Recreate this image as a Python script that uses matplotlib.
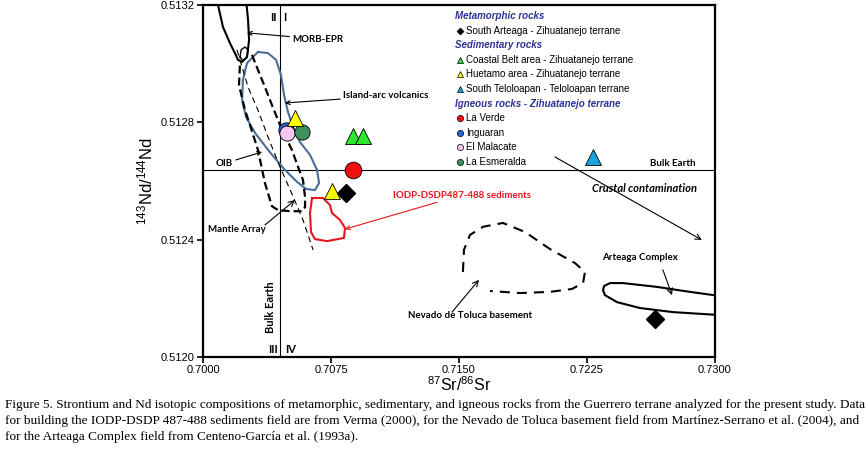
import numpy as np
import matplotlib
matplotlib.use("Agg")
import matplotlib.pyplot as plt

plt.rcParams['font.family'] = ['Liberation Sans', 'DejaVu Sans']
plt.rcParams['mathtext.fontset'] = 'custom'
plt.rcParams['mathtext.rm'] = 'Liberation Sans'
plt.rcParams['mathtext.it'] = 'Liberation Sans:italic'

# ---- samples (87Sr/86Sr, 143Nd/144Nd) ----
arteaga_sr = [0.70838, 0.72648]
arteaga_nd = [0.512560, 0.512130]
coastal_sr = [0.70879, 0.70937]
coastal_nd = [0.512752, 0.512752]
huetamo_sr = [0.70539, 0.70756]
huetamo_nd = [0.512815, 0.512565]
teloloapan_sr = [0.72285]
teloloapan_nd = [0.512682]
laverde_sr = [0.70879]
laverde_nd = [0.512637]
inguaran_sr = [0.70486]
inguaran_nd = [0.512774]
malacate_sr = [0.70492]
malacate_nd = [0.512762]
esmeralda_sr = [0.70580]
esmeralda_nd = [0.512767]

# ---- reference fields (outlines) ----
morb_sr = [0.70076, 0.70088, 0.70117, 0.70158, 0.70187, 0.70205, 0.70229, 0.70258, 0.70270, 0.70264, 0.70252]
morb_nd = [0.51322, 0.51320, 0.513125, 0.51307, 0.513036, 0.513013, 0.513006, 0.513023, 0.513081, 0.513149, 0.51322]

morb_knot_sr = [0.70217, 0.70223, 0.70246, 0.70264, 0.70258, 0.70234, 0.70217]
morb_knot_nd = [0.513023, 0.513047, 0.513057, 0.513047, 0.513023, 0.513010, 0.513023]

arc_sr = [0.70322, 0.70381, 0.70428, 0.70457, 0.70475, 0.70498, 0.70527, 0.70568, 0.70627, 0.70668, 0.70680,
          0.70656, 0.70604, 0.70551, 0.70475, 0.70381, 0.70305, 0.70252, 0.70229, 0.70234, 0.70258, 0.70322]
arc_nd = [0.513040, 0.513036, 0.513013, 0.512961, 0.512893, 0.512835, 0.512784, 0.512733, 0.512689, 0.512638, 0.512593,
          0.512569, 0.512573, 0.512597, 0.512641, 0.512706, 0.512764, 0.512818, 0.512876, 0.512944, 0.513002, 0.513040]

mantle_sr = [0.70287, 0.70322, 0.70363, 0.70404, 0.70463, 0.70521, 0.70557, 0.70586, 0.70598, 0.70598, 0.70580,
             0.70510, 0.70439, 0.70404, 0.70363, 0.70322, 0.70275, 0.70246, 0.70211, 0.70217]
mantle_nd = [0.513030, 0.512979, 0.512920, 0.512859, 0.512774, 0.512706, 0.512648, 0.512603, 0.512545, 0.512511, 0.512497,
             0.512497, 0.512501, 0.512514, 0.512593, 0.512706, 0.512791, 0.512842, 0.512927, 0.513002]

thin_sr = [0.70199, 0.70264, 0.70322, 0.70381, 0.70451, 0.70521, 0.70586, 0.70645]
thin_nd = [0.513047, 0.512920, 0.512842, 0.512750, 0.512648, 0.512556, 0.512467, 0.512365]

iodp_sr = [0.70639, 0.70703, 0.70744, 0.70756, 0.70803, 0.70832, 0.70826, 0.70727, 0.70656, 0.70633, 0.70627, 0.70639]
iodp_nd = [0.512542, 0.512542, 0.512518, 0.512491, 0.512467, 0.512440, 0.512406, 0.512395, 0.512402, 0.512426, 0.512491, 0.512542]

toluca_sr = [0.71523, 0.71529, 0.71564, 0.71641, 0.71758, 0.71887, 0.72033, 0.72180, 0.72238, 0.72227, 0.72162,
             0.72033, 0.71857, 0.71682]
toluca_nd = [0.512290, 0.512365, 0.512416, 0.512444, 0.512457, 0.512426, 0.512368, 0.512320, 0.512290, 0.512252, 0.512232,
             0.512222, 0.512218, 0.512225]

complex_sr = [0.73029, 0.72853, 0.72660, 0.72461, 0.72385, 0.72350, 0.72344, 0.72355, 0.72426, 0.72560, 0.72754, 0.73029]
complex_nd = [0.512208, 0.512222, 0.512239, 0.512252, 0.512252, 0.512242, 0.512228, 0.512211, 0.512187, 0.512167, 0.512153, 0.512143]

bulk_sr = 0.7045
bulk_nd = 0.512638

x_ticks = [0.7000, 0.7075, 0.7150, 0.7225, 0.7300]
y_ticks = [0.5120, 0.5124, 0.5128, 0.5132]

caption = [
    "Figure 5. Strontium and Nd isotopic compositions of metamorphic, sedimentary, and igneous rocks from the Guerrero terrane analyzed for the present study. Data",
    "for building the IODP-DSDP 487-488 sediments field are from Verma (2000), for the Nevado de Toluca basement field from Martínez-Serrano et al. (2004), and",
    "for the Arteaga Complex field from Centeno-García et al. (1993a).",
]

fig = plt.figure(figsize=(8.68, 4.62), dpi=100)
ax = fig.add_axes([203 / 868, 1 - 357 / 462, 512 / 868, 352 / 462])
ax.set_xlim(0.7000, 0.7300)
ax.set_ylim(0.5120, 0.5132)

# bulk earth lines
ax.axvline(bulk_sr, color='black', lw=0.8, zorder=1)
ax.axhline(bulk_nd, color='black', lw=0.8, zorder=1)

# fields
ax.plot(morb_sr, morb_nd, color='black', lw=1.5, solid_joinstyle='round')
ax.plot(morb_knot_sr, morb_knot_nd, color='black', lw=1.0, solid_joinstyle='round')
ax.plot(arc_sr, arc_nd, color='#4a6d96', lw=1.5, solid_joinstyle='round')
ax.plot(mantle_sr, mantle_nd, color='black', lw=1.6, linestyle=(0, (3.6, 1.8)))
ax.plot(thin_sr, thin_nd, color='black', lw=0.8, linestyle=(0, (5.4, 3.6)))
ax.plot(iodp_sr, iodp_nd, color='#e8141b', lw=1.5, solid_joinstyle='round')
ax.plot(toluca_sr, toluca_nd, color='black', lw=1.5, linestyle=(0, (4.8, 3.4)))
ax.plot(complex_sr, complex_nd, color='black', lw=1.5, solid_joinstyle='round')

# samples
mk = dict(linestyle='none', markeredgecolor='black', markeredgewidth=0.6, zorder=5)
ax.plot(inguaran_sr, inguaran_nd, marker='o', ms=11, color='#2a62d6', **mk)
ax.plot(malacate_sr, malacate_nd, marker='o', ms=11, color='#f5c6ef', **mk)
ax.plot(esmeralda_sr, esmeralda_nd, marker='o', ms=11, color='#3d8f5e', **mk)
ax.plot(huetamo_sr, huetamo_nd, marker='^', ms=11, color='#ffff00', **mk)
ax.plot(coastal_sr, coastal_nd, marker='^', ms=11, color='#2ee62e', **mk)
ax.plot(teloloapan_sr, teloloapan_nd, marker='^', ms=12, color='#1aa3e0', **mk)
ax.plot(laverde_sr, laverde_nd, marker='o', ms=12, color='#f01010', **mk)
ax.plot(arteaga_sr, arteaga_nd, marker='D', ms=9, color='black', linestyle='none', zorder=5)

# labels and arrows
lab = dict(fontsize=7, fontweight='bold', family=['Lato', 'DejaVu Sans'])
big = dict(lab, fontsize=8)
arr = dict(arrowstyle='->', lw=0.8, color='black', shrinkA=0, shrinkB=0)
ax.annotate('MORB-EPR', xy=(0.70258, 0.513105), xytext=(0.70522, 0.513084), va='center', ha='left', arrowprops=arr, **lab)
ax.annotate('Island-arc volcanics', xy=(0.7048, 0.512866), xytext=(0.70820, 0.51289), va='center', ha='left', arrowprops=arr, **lab)
ax.annotate('OIB', xy=(0.70346, 0.512699), xytext=(0.70176, 0.51266), va='center', ha='right', arrowprops=arr, **lab)
ax.annotate('', xy=(0.70539, 0.512535), xytext=(0.70363, 0.51245), arrowprops=arr)
ax.text(0.7020, 0.512433, 'Mantle Array', va='center', ha='center', **lab)
ax.annotate('IODP-DSDP487-488 sediments', xy=(0.70832, 0.512436), xytext=(0.71113, 0.512552), va='center', ha='left',
            color='#e8141b', arrowprops=dict(arr, color='#e8141b'), **lab)
ax.annotate('', xy=(0.71617, 0.512263), xytext=(0.71459, 0.512153), arrowprops=arr)
ax.text(0.71564, 0.51214, 'Nevado de Toluca basement', va='center', ha='center', **lab)
ax.annotate('', xy=(0.72748, 0.512211), xytext=(0.72695, 0.512297), arrowprops=arr)
ax.text(0.7256, 0.51234, 'Arteaga Complex', va='center', ha='center', **lab)
ax.annotate('', xy=(0.72923, 0.512399), xytext=(0.72062, 0.512682), arrowprops=arr)
ax.text(0.72589, 0.512576, 'Crustal contamination', va='center', ha='center', style='italic', **big)
ax.text(0.72754, 0.51266, 'Bulk Earth', va='center', ha='center', **lab)
ax.text(0.70393, 0.51217, 'Bulk Earth', va='center', ha='center', rotation=90, **big)
ax.text(0.70434, 0.513159, 'II', va='center', ha='right', **big)
ax.text(0.70469, 0.513159, 'I', va='center', ha='left', **big)
ax.text(0.70440, 0.512024, 'III', va='center', ha='right', **big)
ax.text(0.70480, 0.512024, 'IV', va='center', ha='left', **big)

# legend (drawn by hand to match the grouped layout)
legend_rows = [
    ('Metamorphic rocks', None, None),
    ('South Arteaga - Zihuatanejo terrane', 'D', 'black'),
    ('Sedimentary rocks', None, None),
    ('Coastal Belt area - Zihuatanejo terrane', '^', '#2ee62e'),
    ('Huetamo area - Zihuatanejo terrane', '^', '#ffff00'),
    ('South Teloloapan - Teloloapan terrane', '^', '#1aa3e0'),
    ('Igneous rocks - Zihuatanejo terrane', None, None),
    ('La Verde', 'o', '#f01010'),
    ('Inguaran', 'o', '#2a62d6'),
    ('El Malacate', 'o', '#f5c6ef'),
    ('La Esmeralda', 'o', '#3d8f5e'),
]
row_y = 0.969
for text, marker, color in legend_rows:
    if marker is None:
        ax.text(0.492, row_y, text, transform=ax.transAxes, fontsize=7, fontweight='bold', style='italic',
                color='#2e3192', va='center', ha='left')
    else:
        ax.plot([0.502], [row_y], transform=ax.transAxes, marker=marker, ms=4.5 if marker != 'D' else 3.5,
                color=color, markeredgecolor='black', markeredgewidth=0.5, linestyle='none')
        ax.text(0.514, row_y, text, transform=ax.transAxes, fontsize=7, va='center', ha='left')
    row_y -= 0.0415

# axes styling
for s in ax.spines.values():
    s.set_linewidth(1.6)
ax.set_xticks(x_ticks)
ax.set_yticks(y_ticks)
ax.set_xticklabels(['%.4f' % v for v in x_ticks], fontsize=8)
ax.set_yticklabels(['%.4f' % v for v in y_ticks], fontsize=8)
ax.tick_params(direction='out', length=4, width=1.2, pad=2)
ax.set_xlabel(r'$\mathregular{^{87}Sr/^{86}Sr}$', fontsize=11.5, labelpad=0)
ax.set_ylabel(r'$\mathregular{^{143}Nd/^{144}Nd}$', fontsize=12, labelpad=4)

# caption, first two lines stretched to the full width
cy = [1 - 405 / 462, 1 - 421 / 462, 1 - 437 / 462]
renderer = fig.canvas.get_renderer()
base = 7.6
for i, (line, y) in enumerate(zip(caption, cy)):
    t = fig.text(5 / 868, y, line, fontsize=base, family=['Liberation Serif'], va='center', ha='left')
    if i == 0:
        w = t.get_window_extent(renderer).width
        base = base * 857 / w
        t.set_fontsize(base)
    elif i == 1:
        w = t.get_window_extent(renderer).width
        t.set_fontsize(base * 857 / w)

fig.savefig('out.png', dpi=100)
